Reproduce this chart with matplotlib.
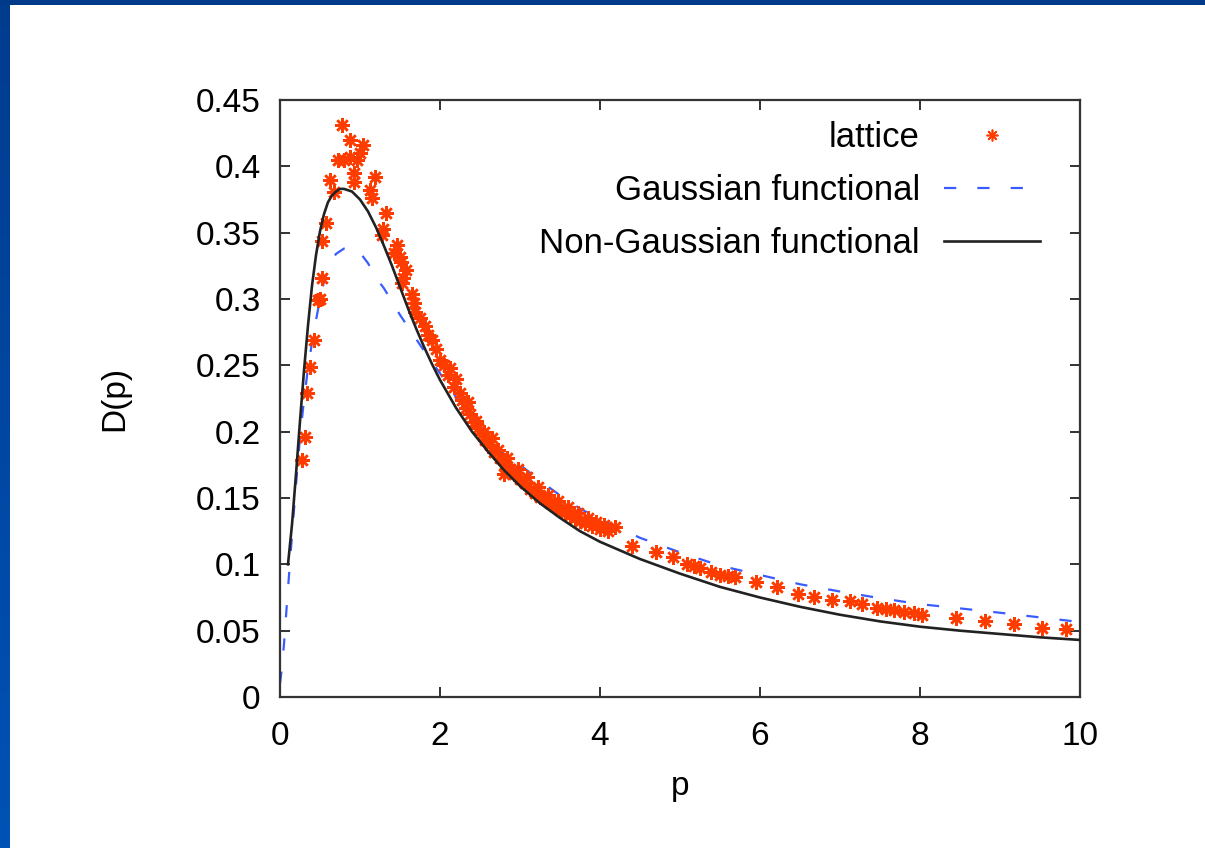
import numpy as np
import matplotlib
matplotlib.use("Agg")
from matplotlib import pyplot as plt
from matplotlib.patches import Rectangle

plt.rcParams["font.family"] = ["Liberation Sans", "DejaVu Sans"]

# Lattice gluon propagator D(p) vs momentum p.
p_lat = [0.27, 0.31, 0.34, 0.375, 0.42, 0.47, 0.50, 0.52, 0.53, 0.58,
         0.63, 0.67, 0.73, 0.77, 0.80, 0.875, 0.88, 0.92, 0.93, 0.96,
         1.00, 1.04, 1.125, 1.15, 1.19, 1.27, 1.29, 1.325,
         1.43, 1.46, 1.50, 1.51, 1.52, 1.54, 1.57, 1.65, 1.67, 1.69,
         1.75, 1.81, 1.85, 1.90, 1.95, 2.00, 2.05, 2.10, 2.125, 2.17,
         2.20, 2.25, 2.27, 2.32, 2.37, 2.42, 2.47, 2.52, 2.56, 2.62,
         2.68, 2.75, 2.80, 2.81, 2.87, 2.93, 3.00, 3.06, 3.12, 3.19,
         3.25, 3.31, 3.37, 3.44, 3.50, 3.56, 3.62, 3.69, 3.75, 3.81,
         3.90, 4.00, 4.095, 4.19, 4.40, 4.70, 4.91, 5.09, 5.17, 5.25,
         5.39, 5.50, 5.60, 5.69, 5.95, 6.21, 6.47, 6.68, 6.90, 7.13,
         7.28, 7.46, 7.58, 7.67, 7.80, 7.93, 8.02, 8.45, 8.81, 9.18,
         9.53, 9.83,
         2.35, 2.45, 2.55, 2.65, 2.72, 2.84, 2.97, 3.09, 3.22, 3.35,
         3.47, 3.60, 3.72, 3.85, 3.95, 4.05]
d_lat = [0.179, 0.196, 0.229, 0.249, 0.269, 0.299, 0.300, 0.316, 0.344, 0.357,
         0.390, 0.381, 0.405, 0.431, 0.405, 0.407, 0.420, 0.395, 0.388, 0.405,
         0.410, 0.416, 0.382, 0.376, 0.392, 0.348, 0.353, 0.365,
         0.335, 0.341, 0.332, 0.328, 0.312, 0.316, 0.322, 0.304, 0.297, 0.290,
         0.286, 0.280, 0.273, 0.269, 0.262, 0.254, 0.250, 0.243, 0.248, 0.234,
         0.240, 0.229, 0.224, 0.218, 0.213, 0.207, 0.203, 0.198, 0.194, 0.190,
         0.185, 0.180, 0.168, 0.176, 0.172, 0.168, 0.164, 0.161, 0.157, 0.154,
         0.151, 0.149, 0.146, 0.144, 0.141, 0.139, 0.137, 0.135, 0.133, 0.131,
         0.129, 0.127, 0.125, 0.128, 0.114, 0.109, 0.1055, 0.1005, 0.099, 0.097,
         0.0943, 0.092, 0.091, 0.0906, 0.0869, 0.0832, 0.0777, 0.0757, 0.0733, 0.0720,
         0.0703, 0.0671, 0.066, 0.0658, 0.064, 0.0634, 0.0621, 0.0597, 0.0572, 0.0554,
         0.0522, 0.0510,
         0.222, 0.208, 0.200, 0.195, 0.186, 0.180, 0.172, 0.166, 0.158, 0.152,
         0.148, 0.143, 0.139, 0.135, 0.132, 0.130]

# Gaussian functional curve.
p_gauss = [0.0, 0.02, 0.05, 0.08, 0.12, 0.16, 0.20, 0.25, 0.30, 0.35, 0.40,
           0.45, 0.50, 0.55, 0.60, 0.65, 0.70, 0.80, 0.90, 1.00, 1.10, 1.20,
           1.30, 1.40, 1.50, 1.60, 1.70, 1.80, 2.00, 2.20, 2.40, 2.60, 2.80,
           3.00, 3.25, 3.50, 3.75, 4.00, 4.50, 5.00, 5.50, 6.00, 6.50, 7.00,
           7.50, 8.00, 8.50, 9.00, 9.50, 10.0]
d_gauss = [0.010, 0.020, 0.040, 0.065, 0.098, 0.130, 0.160, 0.196, 0.224, 0.248, 0.267,
           0.284, 0.300, 0.313, 0.322, 0.329, 0.334, 0.338, 0.339, 0.335, 0.327, 0.316,
           0.308, 0.298, 0.288, 0.279, 0.270, 0.261, 0.244, 0.226, 0.210, 0.195, 0.183,
           0.175, 0.163, 0.152, 0.142, 0.134, 0.120, 0.109, 0.099, 0.092, 0.085, 0.0795,
           0.0745, 0.070, 0.0668, 0.0635, 0.060, 0.0565]

# Non-Gaussian functional curve.
p_ngauss = [0.10, 0.15, 0.20, 0.25, 0.30, 0.35, 0.40, 0.45, 0.50, 0.55, 0.60,
            0.65, 0.70, 0.75, 0.80, 0.85, 0.90, 0.95, 1.00, 1.10, 1.20, 1.30,
            1.40, 1.50, 1.60, 1.70, 1.80, 1.90, 2.00, 2.20, 2.40, 2.60, 2.80,
            3.00, 3.25, 3.50, 3.75, 4.00, 4.50, 5.00, 5.50, 6.00, 6.50, 7.00,
            7.50, 8.00, 8.50, 9.00, 9.50, 10.0]
d_ngauss = [0.100, 0.130, 0.168, 0.208, 0.246, 0.280, 0.310, 0.333, 0.351, 0.364, 0.373,
            0.378, 0.381, 0.383, 0.383, 0.382, 0.381, 0.378, 0.375, 0.366, 0.354, 0.340,
            0.325, 0.309, 0.293, 0.278, 0.264, 0.251, 0.239, 0.218, 0.200, 0.185, 0.171,
            0.159, 0.146, 0.135, 0.125, 0.117, 0.104, 0.093, 0.083, 0.0750, 0.068, 0.062,
            0.057, 0.053, 0.050, 0.0475, 0.045, 0.043]

x_ticks = [0, 2, 4, 6, 8, 10]
y_ticks = [0, 0.05, 0.1, 0.15, 0.2, 0.25, 0.3, 0.35, 0.4, 0.45]
y_ticklabels = ["0", "0.05", "0.1", "0.15", "0.2", "0.25", "0.3", "0.35", "0.4", "0.45"]

W, H = 1205, 848
fig = plt.figure(figsize=(W / 100, H / 100), dpi=100)
fig.patch.set_facecolor("white")

# slide frame: dark blue strip on top, gradient strip on the left
fig.patches.append(Rectangle((0, 1 - 5 / H), 1, 5 / H, transform=fig.transFigure,
                             facecolor="#003a88", edgecolor="none", zorder=0))
band = fig.add_axes([0, 0, 10 / W, 1 - 5 / H])
band.imshow(np.linspace(0, 1, 256)[:, None],
            cmap=matplotlib.colors.LinearSegmentedColormap.from_list("b", ["#003c8e", "#0052b6"]),
            aspect="auto", extent=[0, 1, 0, 1])
band.set_axis_off()

ax = fig.add_axes([280 / W, 151 / H, 800 / W, 597 / H])

ax.plot(p_lat, d_lat, linestyle="none", marker=(8, 2, 0), markersize=10.5,
        markeredgewidth=1.8, color="#ff3c00", label="lattice", zorder=3)
ax.plot(p_gauss, d_gauss, color="#3a5cff", linewidth=1.6, dashes=(5.5, 9.5),
        label="Gaussian functional", zorder=2)
ax.plot(p_ngauss, d_ngauss, color="#222222", linewidth=1.9,
        label="Non-Gaussian functional", zorder=4)

ax.set_xlim(0, 10)
ax.set_ylim(0, 0.45)
ax.set_xticks(x_ticks)
ax.set_yticks(y_ticks)
ax.set_yticklabels(y_ticklabels)
ax.tick_params(direction="in", length=7, width=1.3, top=True, right=True,
               labelsize=24, color="#222222")
ax.tick_params(axis="x", pad=17)
ax.tick_params(axis="y", pad=14)
for s in ax.spines.values():
    s.set_linewidth(1.6)
    s.set_color("#333333")

ax.set_xlabel("p", fontsize=24, labelpad=14)
ax.set_ylabel("D(p)", fontsize=24, labelpad=47)

leg = ax.legend(loc="upper right", bbox_to_anchor=(0.9625, 0.9816), frameon=False,
                markerfirst=False, numpoints=1, fontsize=25, handlelength=2.75,
                handletextpad=0.7, labelspacing=0.57, borderaxespad=0.0, borderpad=0.3)
# smaller, thinner asterisk in the key than on the data
leg.legend_handles[0].set_markersize(8.5)
leg.legend_handles[0].set_markeredgewidth(1.2)

fig.savefig("out.png", dpi=100)
